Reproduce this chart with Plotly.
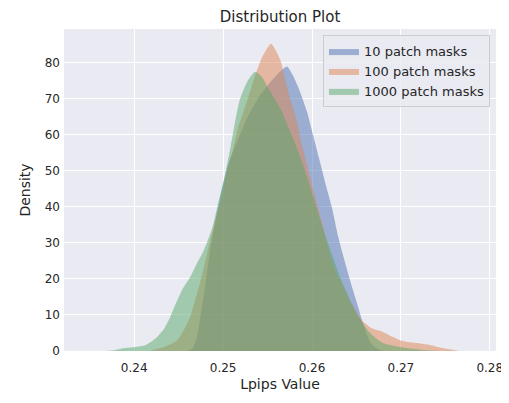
import plotly.graph_objects as go

# Read-off KDE curves (x = Lpips value, y = density)
x_10 = [0.24573, 0.24629, 0.24663, 0.24708, 0.24742, 0.24798, 0.24854, 0.24921, 0.24989, 0.25056,
        0.25157, 0.25270, 0.25416, 0.25528, 0.25640, 0.25719, 0.25787, 0.25865, 0.25944, 0.26011,
        0.26079, 0.26146, 0.26225, 0.26292, 0.26348, 0.26427, 0.26506, 0.26562, 0.26618, 0.26674,
        0.26742, 0.26820]
y_10 = [0, 0.3, 1, 4, 9, 18, 28, 37, 45, 51.7,
        58, 64.7, 71, 74.5, 77.5, 79, 76.4, 72, 66.4, 60,
        53.6, 47, 39.7, 32, 26.7, 19.7, 13.3, 8.6, 4.5, 1.8,
        0.5, 0]

x_100 = [0.24180, 0.24292, 0.24404, 0.24483, 0.24551, 0.24629, 0.24742, 0.24820, 0.24910, 0.24978,
         0.25034, 0.25112, 0.25169, 0.25236, 0.25303, 0.25360, 0.25438, 0.25539, 0.25640, 0.25753,
         0.25831, 0.25888, 0.25944, 0.26011, 0.26090, 0.26169, 0.26202, 0.26258, 0.26348, 0.26449,
         0.26562, 0.26674, 0.26798, 0.26899, 0.26989, 0.27101, 0.27213, 0.27326, 0.27438, 0.27551,
         0.27663]
y_100 = [0, 0.8, 1.8, 3, 5.5, 9.4, 19, 27, 36, 42,
         49, 56, 62, 67, 72, 76.5, 81.5, 85.3, 81, 70,
         63.6, 57, 51.7, 45, 37.8, 30, 26.7, 22.5, 18, 13,
         8.5, 6.3, 5.3, 4, 3, 2.4, 2.1, 1.7, 1.0, 0.5,
         0]

x_1000 = [0.23674, 0.23787, 0.23899, 0.24011, 0.24124, 0.24202, 0.24258, 0.24326, 0.24404, 0.24483,
          0.24551, 0.24629, 0.24708, 0.24775, 0.24876, 0.24944, 0.25022, 0.25079, 0.25135, 0.25191,
          0.25270, 0.25360, 0.25438, 0.25506, 0.25640, 0.25787, 0.25899, 0.26011, 0.26124, 0.26225,
          0.26326, 0.26449, 0.26551, 0.26652, 0.26798, 0.26989, 0.27247, 0.27438]
y_1000 = [0, 0.3, 0.8, 1.1, 1.6, 2.8, 3.9, 5.8, 9.4, 14,
          17.5, 20.5, 24.5, 27.5, 34, 41, 49, 56, 63.6, 70,
          74.7, 77.5, 76, 73, 67.5, 59, 51.7, 43, 34, 26.7,
          20, 13, 8.5, 5, 2.2, 1.1, 0.3, 0]

series = [
    ("10 patch masks", x_10, y_10, "rgba(76,114,176,0.5)"),
    ("100 patch masks", x_100, y_100, "rgba(221,132,82,0.5)"),
    ("1000 patch masks", x_1000, y_1000, "rgba(85,168,104,0.5)"),
]

x_ticks = [0.24, 0.25, 0.26, 0.27, 0.28]
y_ticks = [0, 10, 20, 30, 40, 50, 60, 70, 80]

fig = go.Figure()
for name, xs, ys, col in series:
    fig.add_trace(go.Scatter(
        x=xs, y=ys, name=name, mode="lines", fill="tozeroy",
        fillcolor=col, line=dict(width=0, color=col, shape="spline", smoothing=0.6),
        hoverinfo="skip",
    ))

# The page body has an 8px default margin, so the figure is sized/placed to compensate.
font_family = "DejaVu Sans, sans-serif"
fig.update_layout(
    width=501, height=395,
    margin=dict(l=56, r=13, t=21, b=52, autoexpand=False),
    paper_bgcolor="white",
    plot_bgcolor="#EAEAF2",
    font=dict(family=font_family, size=12, color="#262626"),
    title=dict(text="Distribution Plot", x=0.543, xanchor="center", y=0.977, yanchor="middle",
               font=dict(size=15, color="#262626")),
    legend=dict(
        x=0.986, y=0.981, xanchor="right", yanchor="top",
        bgcolor="rgba(234,234,242,0.8)", bordercolor="#CCCCCC", borderwidth=1,
        font=dict(size=13, color="#262626"),
        tracegroupgap=0,
    ),
    showlegend=True,
)
fig.update_xaxes(
    range=[0.2321, 0.2807], tickvals=x_ticks, ticktext=[f"{v:.2f}" for v in x_ticks],
    showgrid=True, gridcolor="white", gridwidth=1, zeroline=False, showline=False,
    ticks="", ticklen=0, automargin=False, ticklabelstandoff=8,
    title=dict(text="Lpips Value", font=dict(size=14), standoff=5),
    tickfont=dict(size=12),
)
fig.update_yaxes(
    range=[0, 89.4], tickvals=y_ticks,
    showgrid=True, gridcolor="white", gridwidth=1, zeroline=False, showline=False,
    ticks="", ticklen=0, automargin=False, ticklabelstandoff=3,
    title=dict(text="Density", font=dict(size=14), standoff=10),
    tickfont=dict(size=12),
)

fig.write_html("out.html")
